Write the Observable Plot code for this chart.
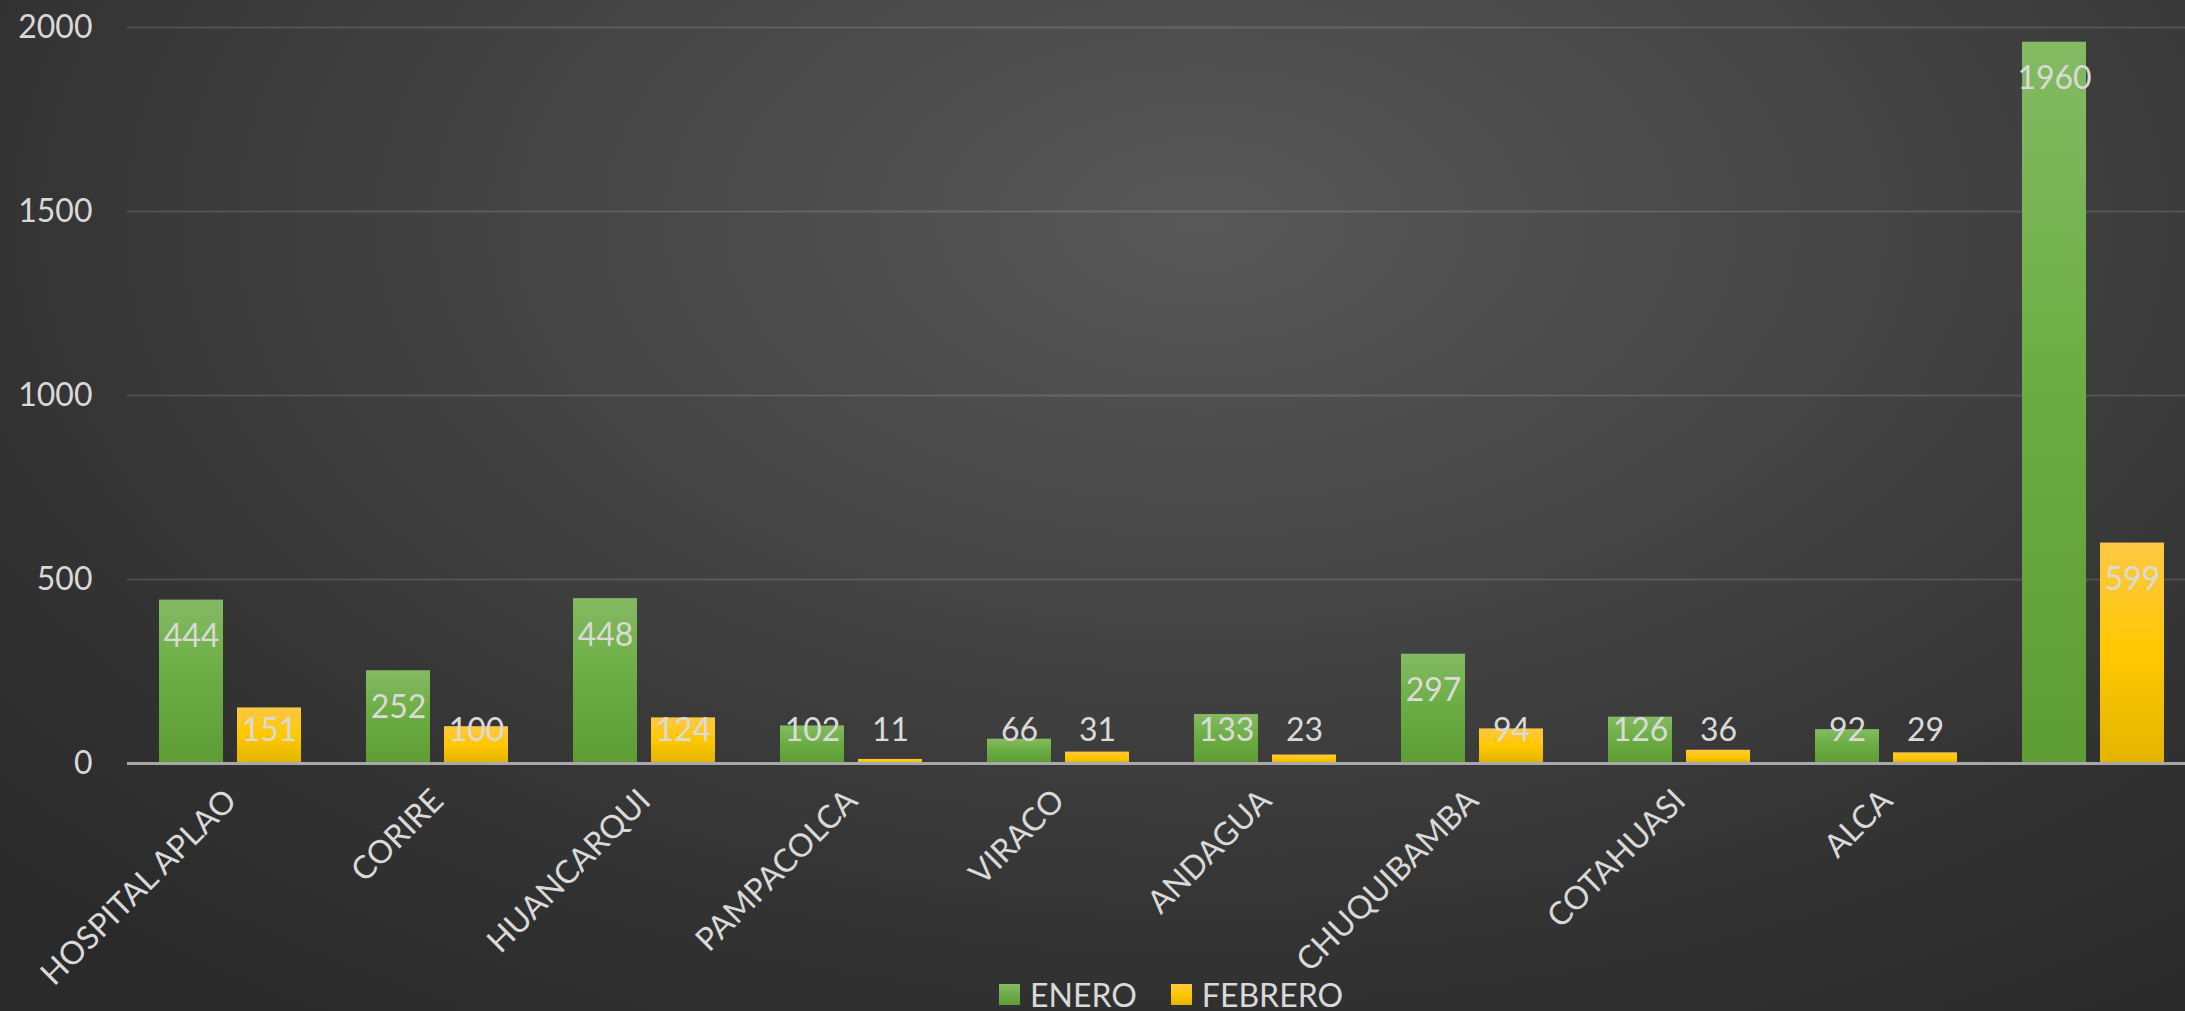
<!DOCTYPE html>
<html>
<head>
<meta charset="utf-8">
<script src="https://cdn.jsdelivr.net/npm/d3@7"></script>
<script src="https://cdn.jsdelivr.net/npm/@observablehq/plot@0.6"></script>
<style>
  html, body { margin: 0; padding: 0; }
  body {
    width: 2185px; height: 1011px; overflow: hidden;
    background: radial-gradient(ellipse 75% 95% at 55% 22%, #585858 0%, #454545 40%, #333333 75%, #2a2a2a 100%);
    font-family: Lato, "Noto Sans", sans-serif;
  }
  #chart svg { overflow: visible; display: block; }
  #legend {
    height: 51px; display: flex; align-items: center; padding-left: 999px; box-sizing: border-box;
    color: #d9d9d9; font-size: 32px; font-family: Lato, sans-serif; padding-top: 18px;
  }
  .sw { width: 21px; height: 21px; display: inline-block; margin-right: 10px; }
  .item { display: flex; align-items: center; margin-right: 34px; }
</style>
</head>
<body>
<svg width="0" height="0" style="position:absolute">
  <defs>
    <linearGradient id="gGreen" x1="0" y1="0" x2="0" y2="1">
      <stop offset="0%" stop-color="#84ba63"/>
      <stop offset="45%" stop-color="#6cae43"/>
      <stop offset="100%" stop-color="#5e9c34"/>
    </linearGradient>
    <linearGradient id="gYellow" x1="0" y1="0" x2="0" y2="1">
      <stop offset="0%" stop-color="#ffc845"/>
      <stop offset="50%" stop-color="#ffc800"/>
      <stop offset="100%" stop-color="#e3b400"/>
    </linearGradient>
  </defs>
</svg>
<div id="chart"></div>
<div id="legend">
  <div class="item"><span class="sw" style="background:linear-gradient(#84ba63,#5e9c34)"></span>ENERO</div>
  <div class="item"><span class="sw" style="background:linear-gradient(#ffc845,#ffc800,#e3b400)"></span>FEBRERO</div>
</div>
<script>
const categories = ["HOSPITAL APLAO", "CORIRE", "HUANCARQUI", "PAMPACOLCA", "VIRACO", "ANDAGUA", "CHUQUIBAMBA", "COTAHUASI", "ALCA", ""];
const series = ["ENERO", "FEBRERO"];
const enero = [444, 252, 448, 102, 66, 133, 297, 126, 92, 1960];
const febrero = [151, 100, 124, 11, 31, 23, 94, 36, 29, 599];
const yTicks = [0, 500, 1000, 1500, 2000];

const rows = [];
categories.forEach((c, i) => {
  rows.push({cat: c, serie: "ENERO", value: enero[i]});
  rows.push({cat: c, serie: "FEBRERO", value: febrero[i]});
});

const fills = {ENERO: "url(#gGreen)", FEBRERO: "url(#gYellow)"};

const chart = Plot.plot({
  width: 2185,
  height: 960,
  marginLeft: 122,
  marginRight: -16,
  marginTop: 27,
  marginBottom: 197,
  style: {background: "transparent", color: "#d9d9d9", fontFamily: "Lato, sans-serif", fontSize: "32px"},
  fx: {domain: categories, padding: 0, label: null},
  x: {domain: series, paddingInner: 0.177, paddingOuter: 0.404, axis: null},
  y: {domain: [0, 2000], label: null},
  marks: [
    Plot.gridY(yTicks.slice(1), {stroke: "#ffffff", strokeOpacity: 0.13, strokeWidth: 2}),
    Plot.barY(rows, {fx: "cat", x: "serie", y: "value", fill: d => fills[d.serie],
      style: {filter: "drop-shadow(0px 0px 5px rgba(0,0,0,0.45))"}}),
    Plot.ruleY([0], {stroke: "#a8a8a8", strokeWidth: 3}),
    Plot.text(rows, {fx: "cat", x: "serie", y: d => Math.max(d.value - 100, 90), text: d => String(d.value),
      fill: "#dadada", fontSize: 32, fontFamily: "Lato, sans-serif"}),
    Plot.axisY({ticks: yTicks, tickSize: 0, tickPadding: 35, fontSize: 32, label: null, tickFormat: d => String(d)}),
    Plot.axisFx({anchor: "bottom", tickRotate: -45, tickSize: 0, tickPadding: 32, fontSize: 32, label: null, tickFormat: d => d})
  ]
});
document.getElementById("chart").appendChild(chart);
</script>
</body>
</html>
